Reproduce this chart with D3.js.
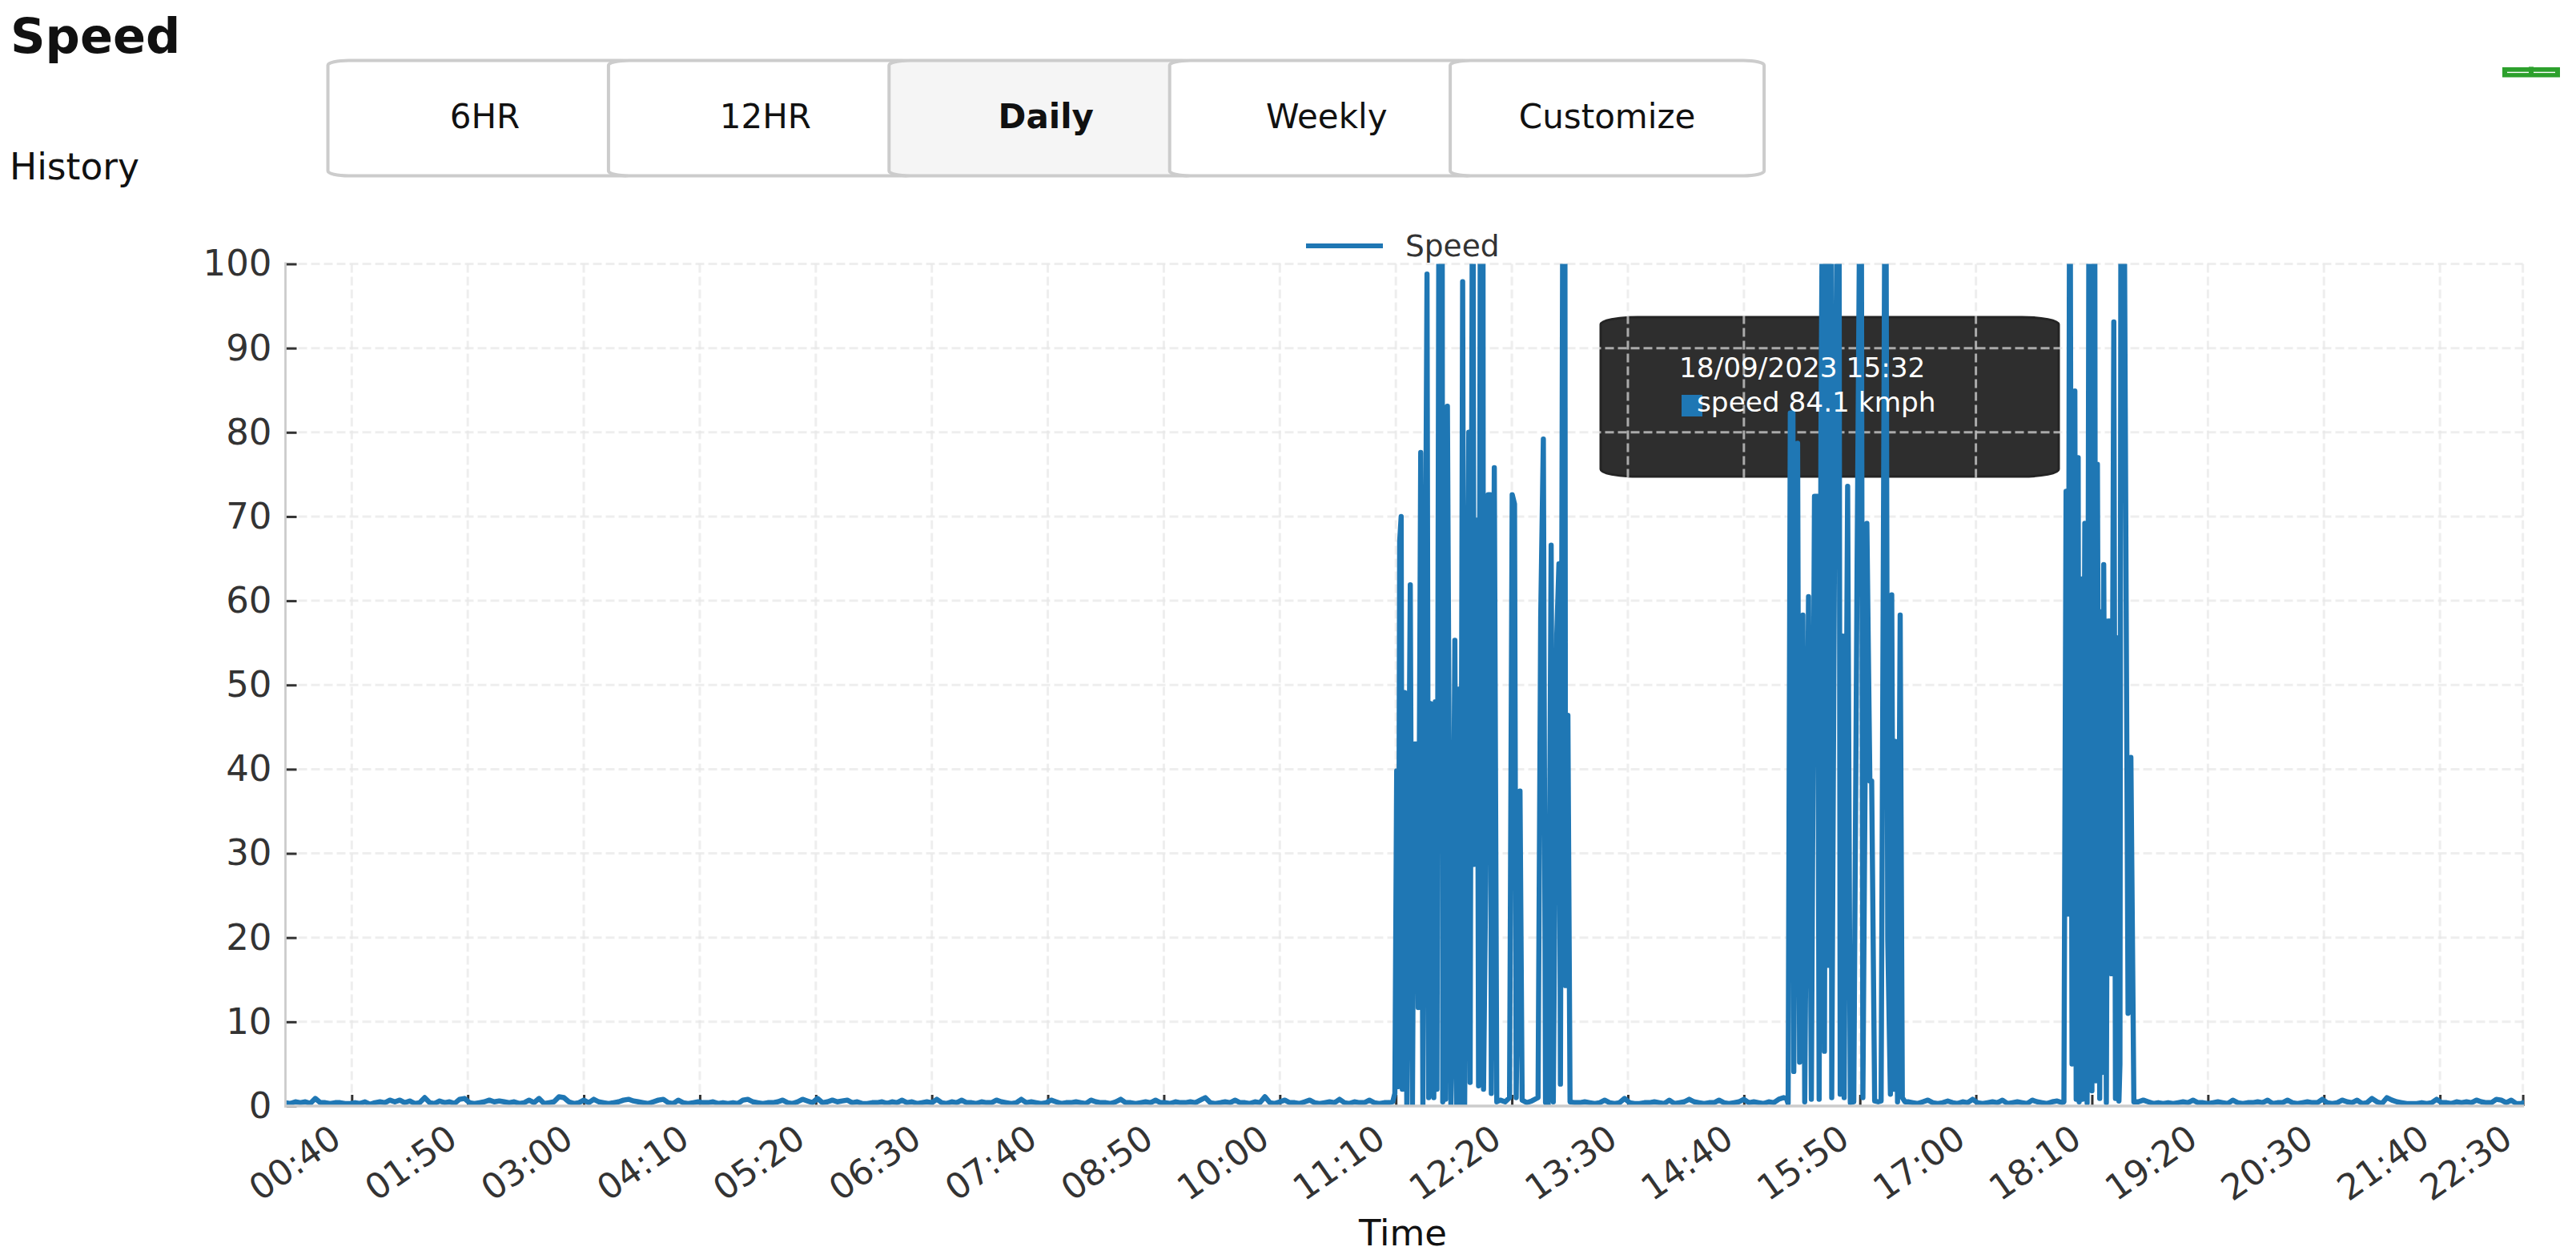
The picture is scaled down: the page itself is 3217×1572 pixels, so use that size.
<!DOCTYPE html>
<html>
<head>
<meta charset="utf-8">
<title>Speed</title>
<script src="https://cdn.jsdelivr.net/npm/d3@7"></script>
<style>
  body { margin: 0; background: #fff; }
  text { font-family: "DejaVu Sans", sans-serif; }
</style>
</head>
<body>
<svg id="chart" width="3217" height="1572"></svg>
<script>
//DATA. times are minutes after midnight on 18/09/2023
const buttonLabels = ["6HR", "12HR", "Daily", "Weekly", "Customize"];
const activeButton = "Daily";
const yTicks = [0, 10, 20, 30, 40, 50, 60, 70, 80, 90, 100];
const xTickLabels = ["00:40", "01:50", "03:00", "04:10", "05:20", "06:30", "07:40", "08:50", "10:00", "11:10",
  "12:20", "13:30", "14:40", "15:50", "17:00", "18:10", "19:20", "20:30", "21:40", "22:30"];

//quiet stretches, one reading every 3 minutes
const quietStep = 3;
const quietNightStart = 0;
const quietNight = [
  .4, .3, .5, .4, .5, .3, .9, .4, .4, .3, .4, .4, .3, .3, .4, .3, .5, .2, .4, .5, .4, .7, .5, .7, .4, .6, .3, .4, 1, .4,
  .3, .6, .4, .5, .3, .8, .9, .4, .3, .4, .5, .7, .5, .6, .5, .4, .5, .3, .4, .7, .4, .9, .3, .4, .5, 1.1, 1, .5, .3, .4,
  .7, .4, .8, .5, .4, .3, .4, .5, .7, .8, .6, .5, .4, .3, .5, .7, .8, .4, .3, .7, .4, .3, .4, .5, .4, .4, .5, .3, .4, .3,
  .4, .3, .7, .8, .5, .4, .3, .4, .4, .5, .7, .4, .3, .5, .8, .6, .4, .9, .4, .5, .7, .5, .6, .7, .4, .5, .3, .3, .4, .4,
  .5, .3, .5, .4, .7, .4, .5, .3, .4, .5, .4, .8, .4, .3, .5, .4, .7, .4, .4, .3, .5, .4, .4, .7, .5, .4, .3, .4, .8, .4,
  .5, .4, .3, .4, .7, .5, .3, .4, .4, .5, .4, .3, .7, .5, .4, .4, .3, .5, .8, .4, .4, .3, .4, .5, .4, .7, .4, .4, .3, .5,
  .4, .4, .5, .4, .7, 1, .4, .3, .4, .5, .4, .7, .4, .4, .3, .5, .4, 1.1, .4, .3, .5, .7, .4, .4, .3, .5, .7, .4, .3, .4,
  .5, .4, .8, .4, .3, .5, .4, .4, .7, .4, .3, .4, .4];
const quietMiddayStart = 778;
const quietMidday = [
  .4, .4, .5, .4, .3, .4, .7, .4, .3, .4, .9, .4, .3, .3, .4, .4, .5, .4, .3, .7, .3, .4, .5, .8, .5, .4, .3, .4, .4, .7,
  .4, .3, .4, .5, .8, .4, .5, .4, .3, .5, .4, .8, 1];
const quietAfternoonStart = 979;
const quietAfternoon = [
  .5, .4, .3, .5, .7, .4, .3, .4, .6, .4, .3, .5, .4, .8, .4, .3, .4, .5, .4, .7, .3, .4, .5, .4, .3, .7, .5, .4, .3, .5, .6, .4];
const quietEveningStart = 1118;
const quietEvening = [
  .5, .7, .5, .3, .4, .3, .4, .3, .4, .5, .4, .7, .4, .4, .3, .4, .5, .4, .3, .7, .4, .3, .4, .4, .5, .4, .7, .3, .4, .4,
  .7, .4, .3, .4, .5, .4, .4, .8, .4, .3, .4, .7, .5, .4, .7, .3, .4, .9, .5, .3, 1, .7, .5, .4, .3, .3, .3, .4, .3, .4,
  .8, .4, .4, .3, .5, .4, .5, .4, .7, .5, .4, .4, .8, .7, .4, .7, .3, .3, .5, .9, .4, .3, .4, .3, .5, .7, .4, .7, .4, .3, .4, .5, 1.2];

//the three bursts. values above 100 run off the top of the plot
const burstMorningTimes = [668.1, 669.4, 670.5, 671.5, 672.3, 673.2, 673.9, 675.3, 676.6, 678.7, 680, 681.1, 682.4, 683.5, 685, 686.3,
  688.8, 689.8, 690.9, 691.7, 692.4, 692.9, 693.8, 694.8, 696.2, 696.9, 697.9, 698.3, 699, 700, 701.1, 703.2, 704, 705.6, 706.7, 707.7,
  709, 710.3, 711.5, 714, 714.8, 716.4, 717.3, 719.1, 719.9, 721.2, 722, 722.5, 722.9, 724.2, 725.7, 727, 727.6, 729.4, 730.9, 733, 736,
  738.6, 740.2, 741.6, 742.6, 744.9, 746.2, 749, 752, 755.8, 757.4, 759, 760.3, 761.9, 763.7, 765, 767.1, 768.4, 769.3, 771, 771.9,
  772.4, 773.8, 775.1];
const burstMorningValues = [.5, 1.5, 39.8, 2.3, 67, 70, 2, 49.1, 0, 61.9, 0, 43, 43, 11.7, 77.6, .2,
  98.8, 1, 47.8, 14, 38.6, 1, 48, 2, 130, 37.4, 130, .5, 47, .8, 83.1, 0, 7.9, 55.3, 0, 49.5,
  0, 97.9, 0, 80, 2.8, 130, 28.7, 69.6, 2.4, 130, 130, 130, 2, 26.6, 72.6, 72.6, 1.5, 75.8, .5, .7, .5,
  1, 72.6, 71.5, 1, 37.4, .7, .4, .6, 1, 58, 79.2, .4, 0, 66.6, .5, 56, 64.4, 2.6, 130, 130,
  14.3, 46.4, .5];

const burstAfternoonTimes = [905.6, 906.7, 908, 909.6, 910.1, 912.4, 913.6, 915.6, 916.7, 919, 920.7, 922.6, 924.4, 925.4, 926.5, 928, 928.6,
  930.2, 930.7, 932.5, 933, 935, 937.3, 938.1, 939.7, 940.5, 942.6, 944.2, 946.3, 948.3, 950.7, 951.8, 954.2, 956, 957.1, 958.9, 961,
  962.8, 965.5, 966.8, 968.4, 969.2, 970.5, 971.3, 972.7, 974.3, 975.6, 977.2];
const burstAfternoonValues = [.9, .3, 82.3, 82.3, 4.1, 78.7, 5.2, 58.3, .5, 60.5, .8, 72.4, 72.4, .8, 80, 130, 6.5,
  130, 16.7, 130, 1, 79, 130, 1.4, 55.8, 1, 73.6, .4, .5, 64, 130, 1, 69.2, 38.6, 38.6, .6, .5,
  .6, 130, 19.8, 1.4, 60.7, 2, 43.3, .5, 58.3, 1, .5];

const burstEveningTimes = [1073.1, 1074.4, 1075.6, 1076.7, 1078, 1079.7, 1080.5, 1081.7, 1082.3, 1083.3, 1084.4, 1085.7, 1087.1, 1088.4,
  1090, 1091.6, 1092.3, 1093.3, 1094.7, 1095.7, 1096.3, 1097.1, 1098.7, 1099.7, 1101.1, 1101.8, 1103.2, 1104.2, 1105.3, 1106.3, 1106.9,
  1107.6, 1109, 1111.8, 1113.5, 1115.3];
const burstEveningValues = [.5, 73, 22.8, 130, 5, 84.9, .8, 77, .5, 62.6, .8, 69.2, .3, 130,
  1.8, 130, 3, 76.2, .9, 58.7, 4, 64.3, .4, 57.6, 57.6, 15.7, 93.1, .9, 55.6, .6, 5,
  130, 130, 11, 41.4, .5];

const tooltipTitle = "18/09/2023 15:32";
const tooltipValue = "speed 84.1 kmph";

//VARIABLES AND CONSTANT
const seriesColor = "#1f77b4";
const textColor = "#333";
const day = (minutes) => new Date(2023, 8, 18, 0, minutes, Math.round((minutes % 1) * 60));
const parseTick = d3.timeParse("%H:%M");
const xTickDates = xTickLabels.map((label) => {
  const t = parseTick(label);
  return day(t.getHours() * 60 + t.getMinutes());
});

//join the quiet stretches and the bursts into one series
function quietPoints(start, values) {
  return values.map((v, i) => ({ t: start + i * quietStep, v }));
}
function burstPoints(times, values) {
  return times.map((t, i) => ({ t, v: values[i] }));
}
const speedData = [
  ...quietPoints(quietNightStart, quietNight),
  ...burstPoints(burstMorningTimes, burstMorningValues),
  ...quietPoints(quietMiddayStart, quietMidday),
  ...burstPoints(burstAfternoonTimes, burstAfternoonValues),
  ...quietPoints(quietAfternoonStart, quietAfternoon),
  ...burstPoints(burstEveningTimes, burstEveningValues),
  ...quietPoints(quietEveningStart, quietEvening),
].sort((a, b) => a.t - b.t);

const plot = { left: 356.5, right: 3150.6, top: 329.5, bottom: 1381 };
const x = d3.scaleTime().domain([day(0), day(1350)]).range([plot.left, plot.right]);
const y = d3.scaleLinear().domain([0, 100]).range([plot.bottom, plot.top]);

const svg = d3.select("#chart");

//header
svg.append("text").attr("x", 13).attr("y", 66).attr("font-size", 60.5).attr("font-weight", "bold").attr("fill", "#111").text("Speed");
svg.append("text").attr("x", 12).attr("y", 224).attr("font-size", 45.5).attr("fill", "#111").text("History");

//range buttons, each one overlaps the one before it
const buttons = svg.append("g").selectAll("g").data(buttonLabels).join("g")
  .attr("transform", (d, i) => `translate(${409.5 + i * 350.4},75.5)`);
buttons.append("rect")
  .attr("width", 392).attr("height", 144).attr("rx", 26).attr("ry", 6)
  .attr("fill", (d) => (d === activeButton ? "#f5f5f5" : "#fff"))
  .attr("stroke", "#ccc").attr("stroke-width", 4);
buttons.append("text")
  .attr("x", 196).attr("y", 84).attr("text-anchor", "middle").attr("font-size", 42)
  .attr("font-weight", (d) => (d === activeButton ? "bold" : "normal"))
  .attr("fill", "#111").text((d) => d);

//the green badge in the corner
const badge = svg.append("g");
badge.append("rect").attr("x", 3125).attr("y", 84).attr("width", 72).attr("height", 12.5).attr("fill", "#2ca02c");
badge.append("rect").attr("x", 3158).attr("y", 83).attr("width", 6).attr("height", 2).attr("fill", "#2ca02c").attr("opacity", .6);
badge.append("line").attr("x1", 3131).attr("x2", 3158).attr("y1", 90.4).attr("y2", 90.4).attr("stroke", "#fff").attr("stroke-width", 1.4);
badge.append("line").attr("x1", 3164).attr("x2", 3191).attr("y1", 90.4).attr("y2", 90.4).attr("stroke", "#fff").attr("stroke-width", 1.4);

//tooltip box goes under the grid and the line
svg.append("rect")
  .attr("x", 1999).attr("y", 396).attr("width", 572).attr("height", 199).attr("rx", 46).attr("ry", 9)
  .attr("fill", "#2e2e2e").attr("stroke", "#242424").attr("stroke-width", 3);

//grid
const grid = svg.append("g").attr("stroke", "#e6e6e6").attr("stroke-opacity", .675).attr("stroke-width", 3).attr("stroke-dasharray", "11 5");
grid.selectAll("line.h").data(yTicks.slice(1)).join("line").attr("class", "h")
  .attr("x1", plot.left).attr("x2", plot.right).attr("y1", (d) => y(d)).attr("y2", (d) => y(d));
grid.selectAll("line.v").data(xTickDates).join("line").attr("class", "v")
  .attr("x1", (d) => x(d)).attr("x2", (d) => x(d)).attr("y1", plot.top).attr("y2", plot.bottom);

//axes, ticks point into the plot
const xAxis = svg.append("g").attr("transform", `translate(0,${plot.bottom})`)
  .call(d3.axisBottom(x).tickValues(xTickDates).tickSize(-14).tickFormat((d, i) => xTickLabels[i]));
xAxis.select(".domain").remove();
xAxis.selectAll("line").attr("stroke", textColor).attr("stroke-width", 3);
xAxis.selectAll("text")
  .attr("x", null).attr("y", null).attr("dy", null)
  .attr("text-anchor", "end")
  .attr("transform", "translate(-11,47) rotate(-35)")
  .attr("font-size", 44).attr("font-family", "DejaVu Sans").attr("fill", textColor);

const yAxis = svg.append("g").attr("transform", `translate(${plot.left},0)`)
  .call(d3.axisLeft(y).tickValues(yTicks).tickSize(-14).tickPadding(17));
yAxis.select(".domain").remove();
yAxis.selectAll("line").attr("stroke", textColor).attr("stroke-width", 3);
yAxis.selectAll("text").attr("font-size", 45).attr("font-family", "DejaVu Sans").attr("fill", textColor);

//speed line
svg.append("clipPath").attr("id", "plot-clip").append("rect")
  .attr("x", plot.left).attr("y", plot.top).attr("width", plot.right - plot.left + 1.5).attr("height", plot.bottom - plot.top);
const line = d3.line().x((d) => x(day(d.t))).y((d) => y(d.v));
svg.append("path").datum(speedData)
  .attr("clip-path", "url(#plot-clip)")
  .attr("d", line)
  .attr("fill", "none").attr("stroke", seriesColor).attr("stroke-width", 6.4)
  .attr("stroke-linejoin", "round").attr("stroke-linecap", "round");

//axis lines go over the line
svg.append("line").attr("x1", plot.left).attr("x2", plot.left).attr("y1", plot.top - 2).attr("y2", plot.bottom + 2)
  .attr("stroke", "#ccc").attr("stroke-width", 2.8);
svg.append("line").attr("x1", plot.left - 1.4).attr("x2", plot.right + 1.5).attr("y1", plot.bottom).attr("y2", plot.bottom)
  .attr("stroke", "#ccc").attr("stroke-width", 3.7);

//legend
svg.append("line").attr("x1", 1631).attr("x2", 1727).attr("y1", 307).attr("y2", 307).attr("stroke", seriesColor).attr("stroke-width", 6);
svg.append("text").attr("x", 1755).attr("y", 320).attr("font-size", 37.5).attr("fill", textColor).text("Speed");

//tooltip content sits on top of the line
svg.append("rect").attr("x", 2100).attr("y", 493).attr("width", 26).attr("height", 27).attr("fill", seriesColor);
svg.append("text").attr("x", 2097).attr("y", 471).attr("font-size", 34.3).attr("fill", "#fff").text(tooltipTitle);
svg.append("text").attr("x", 2119).attr("y", 514).attr("font-size", 34.3).attr("fill", "#fff").text(tooltipValue);

//x axis title
svg.append("text").attr("x", 1752).attr("y", 1555).attr("text-anchor", "middle").attr("font-size", 45).attr("fill", "#111").text("Time");
</script>
</body>
</html>
